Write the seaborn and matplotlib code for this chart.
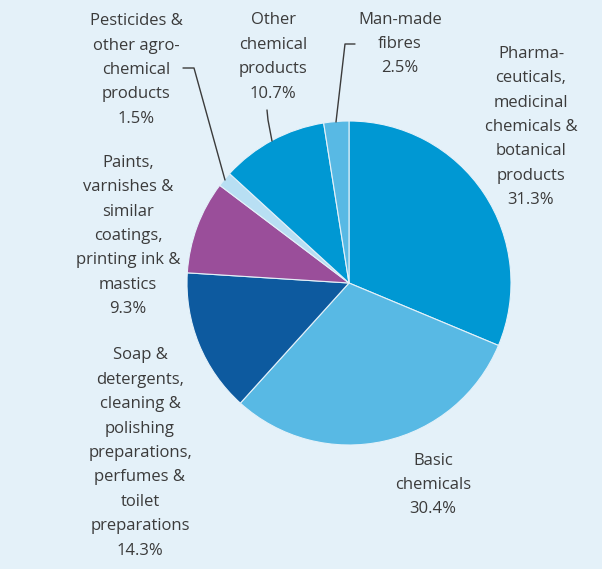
import matplotlib
matplotlib.use("Agg")
import matplotlib.pyplot as plt
import seaborn as sns

categories = [
    "Pharma-\nceuticals,\nmedicinal\nchemicals &\nbotanical\nproducts",
    "Basic\nchemicals",
    "Soap &\ndetergents,\ncleaning &\npolishing\npreparations,\nperfumes &\ntoilet\npreparations",
    "Paints,\nvarnishes &\nsimilar\ncoatings,\nprinting ink &\nmastics",
    "Pesticides &\nother agro-\nchemical\nproducts",
    "Other\nchemical\nproducts",
    "Man-made\nfibres",
]
shares = [31.3, 30.4, 14.3, 9.3, 1.5, 10.7, 2.5]
colors = ["#0098d3", "#58b9e4", "#0d5a9f", "#9a4e9a", "#b8dff3", "#0098d3", "#58b9e4"]

BG = "#e4f1f9"
TXT = "#3b3b3b"

sns.set_theme(style="white")
plt.rcParams["font.family"] = ["Open Sans", "DejaVu Sans"]

W, H = 602, 569
fig = plt.figure(figsize=(W / 100, H / 100), dpi=100, facecolor=BG)
ax = fig.add_axes([0, 0, 1, 1])
ax.set_facecolor(BG)

cx, cy, r = 349, H - 283, 162
ax.pie(shares, colors=colors, startangle=90, counterclock=False,
       center=(cx, cy), radius=r,
       wedgeprops=dict(edgecolor=BG, linewidth=0.8))
ax.set_xlim(0, W)
ax.set_ylim(0, H)
ax.set_aspect("equal")
ax.axis("off")

def label(text, x, ymid, pct):
    full = text + "\n" + f"{pct:.1f}%"
    ax.text(x, H - ymid, full, ha="center", va="center", fontsize=12.0,
            color=TXT, linespacing=1.70)

# label anchors (center x, vertical middle y in pixels)
pos = [
    (531, 127),  # pharma
    (433, 485),  # basic
    (140, 453),  # soap
    (128, 236),  # paints
    (136, 70),   # pesticides
    (273, 57),   # other
    (400, 44),   # fibres
]
for cat, pct, (x, y) in zip(categories, shares, pos):
    label(cat, x, y, pct)

# leader lines
lw = 1.0
ax.plot([225, 194, 183], [H - 180, H - 68, H - 68], color=TXT, lw=lw)
ax.plot([272, 268, 267], [H - 141, H - 120, H - 110], color=TXT, lw=lw)
ax.plot([336, 345, 355], [H - 122, H - 44, H - 44], color=TXT, lw=lw)

fig.savefig("out.png", dpi=100, facecolor=BG)
